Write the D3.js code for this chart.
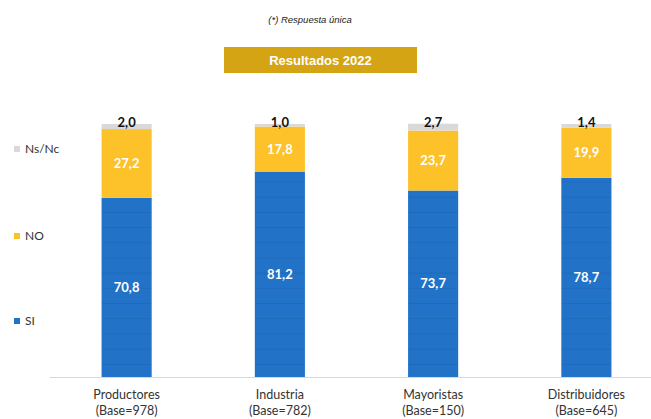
<!DOCTYPE html>
<html>
<head>
<meta charset="utf-8">
<script src="https://cdn.jsdelivr.net/npm/d3@7"></script>
<style>
  body { margin: 0; background: #fff; }
  #canvas { width: 651px; height: 419px; }
</style>
</head>
<body>
<div id="canvas"></div>
<script>
const categories = ["Productores", "Industria", "Mayoristas", "Distribuidores"];
const bases = ["(Base=978)", "(Base=782)", "(Base=150)", "(Base=645)"];
const si = [70.8, 81.2, 73.7, 78.7];
const no = [27.2, 17.8, 23.7, 19.9];
const nsnc = [2.0, 1.0, 2.7, 1.4];
const seriesNames = ["SI", "NO", "Ns/Nc"];
const colors = ["#2272c8", "#fdc12a", "#d9d9d9"];

const width = 651;
const height = 419;
const margin = { top: 124, left: 50, bottom: 42, right: -12 };
const iheight = height - margin.top - margin.bottom;

const svg = d3.select("#canvas").append("svg")
  .attr("width", width)
  .attr("height", height)
  .style("font-family", "Lato, 'Open Sans', sans-serif");

// faint horizontal stripes inside the bars
const defs = svg.append("defs");
colors.forEach((c, i) => {
  const p = defs.append("pattern")
    .attr("id", "stripe" + i)
    .attr("patternUnits", "userSpaceOnUse")
    .attr("width", 10).attr("height", 15.2);
  p.append("rect").attr("width", 10).attr("height", 15.2).attr("fill", c);
  if (i === 0) {
    p.append("rect").attr("y", 14.2).attr("width", 10).attr("height", 1)
      .attr("fill", "#1a5fa8").attr("opacity", 0.45);
  }
});

const x = d3.scaleBand()
  .domain(categories)
  .range([margin.left, width - margin.right])
  .paddingInner(0.673)
  .paddingOuter(0.3365);

const y = d3.scaleLinear().domain([0, 100]).range([margin.top + iheight, margin.top]);

const rows = categories.map((c, i) => ({ cat: c, SI: si[i], NO: no[i], "Ns/Nc": nsnc[i] }));
const stacked = d3.stack().keys(seriesNames)(rows);

// axis baseline
svg.append("line")
  .attr("x1", margin.left).attr("x2", width)
  .attr("y1", y(0) + 0.5).attr("y2", y(0) + 0.5)
  .attr("stroke", "#d9d9d9").attr("stroke-width", 1);

const layers = svg.selectAll("g.layer").data(stacked).enter().append("g")
  .attr("class", "layer")
  .attr("fill", (d, i) => "url(#stripe" + i + ")");

layers.selectAll("rect").data(d => d).enter().append("rect")
  .attr("x", d => x(d.data.cat))
  .attr("y", d => y(d[1]))
  .attr("width", x.bandwidth())
  .attr("height", d => y(d[0]) - y(d[1]));

// value labels
const fmt = v => v.toFixed(1).replace(".", ",");
stacked.forEach((layer, i) => {
  svg.append("g").selectAll("text").data(layer).enter().append("text")
    .attr("x", d => x(d.data.cat) + x.bandwidth() / 2)
    .attr("y", d => i === 2 ? y(d[1]) + 3 : (y(d[0]) + y(d[1])) / 2 + 4.5)
    .attr("text-anchor", "middle")
    .attr("font-size", 13)
    .attr("font-weight", "bold")
    .attr("fill", i === 2 ? "#111" : "#fff")
    .text(d => fmt(d[1] - d[0]));
});

// category axis labels
const xAxis = svg.append("g");
categories.forEach((c, i) => {
  const t = xAxis.append("text")
    .attr("x", x(c) + x.bandwidth() / 2)
    .attr("y", y(0) + 22)
    .attr("text-anchor", "middle")
    .attr("font-size", 12.5)
    .attr("fill", "#333");
  t.append("tspan").attr("x", x(c) + x.bandwidth() / 2).text(c);
  t.append("tspan").attr("x", x(c) + x.bandwidth() / 2).attr("dy", 16).text(bases[i]);
});

// legend
const legendY = [324, 239, 152];
seriesNames.forEach((s, i) => {
  const g = svg.append("g").attr("transform", `translate(14,${legendY[i]})`);
  g.append("rect").attr("x", 0).attr("y", -6).attr("width", 6).attr("height", 6).attr("fill", colors[i]);
  g.append("text").attr("x", 11).attr("y", 1).attr("font-size", 12).attr("fill", "#333").text(s);
});

// header
svg.append("text")
  .attr("x", 310).attr("y", 23)
  .attr("text-anchor", "middle")
  .attr("font-family", "'Liberation Sans', Arial, sans-serif")
  .attr("font-style", "italic")
  .attr("font-size", 9.5)
  .attr("fill", "#222")
  .text("(*) Respuesta única");

svg.append("rect")
  .attr("x", 224).attr("y", 47).attr("width", 193).attr("height", 26)
  .attr("fill", "#d4a414");
svg.append("text")
  .attr("x", 320.5).attr("y", 65)
  .attr("text-anchor", "middle")
  .attr("font-family", "'Liberation Sans', Arial, sans-serif")
  .attr("font-weight", "bold")
  .attr("font-size", 13)
  .attr("fill", "#fff")
  .text("Resultados 2022");
</script>
</body>
</html>
